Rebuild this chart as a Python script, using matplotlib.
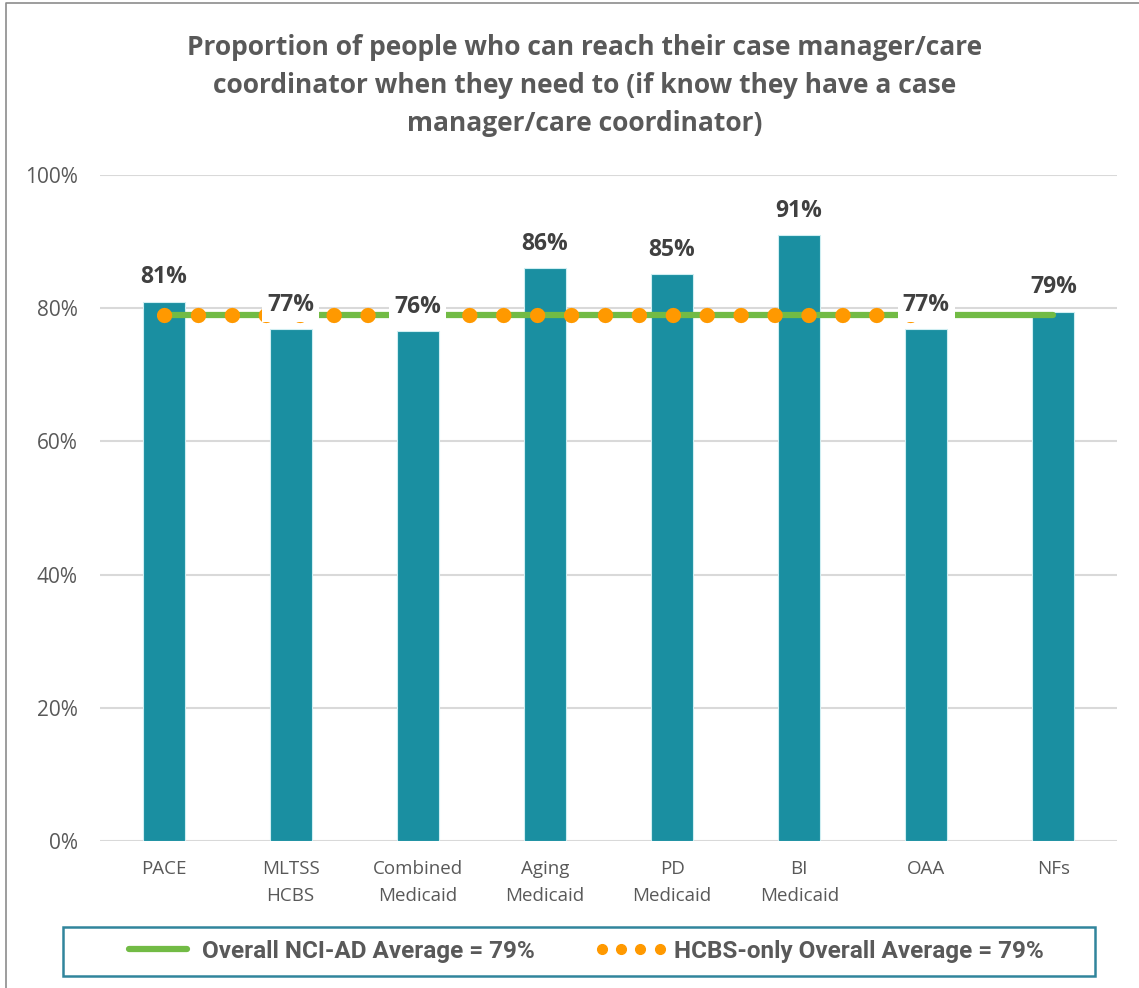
import matplotlib.pyplot as plt
from matplotlib.lines import Line2D
from matplotlib.patches import Rectangle
from matplotlib.ticker import PercentFormatter

plt.rcParams['font.family'] = ['Open Sans', 'DejaVu Sans']

# Data
categories = ['PACE', 'MLTSS\nHCBS', 'Combined\nMedicaid', 'Aging\nMedicaid',
              'PD\nMedicaid', 'BI\nMedicaid', 'OAA', 'NFs']
values = [0.81, 0.769, 0.766, 0.86, 0.851, 0.91, 0.769, 0.795]
labels = ['81%', '77%', '76%', '86%', '85%', '91%', '77%', '79%']
overall_avg = 0.79
hcbs_avg = 0.79
hcbs_last = 6  # HCBS average spans PACE .. OAA

bar_color = '#1A8FA1'
green = '#72BB45'
orange = '#FF9900'
text_gray = '#595959'

W, H = 1139, 988
fig = plt.figure(figsize=(W / 100, H / 100), dpi=100)
ax = fig.add_axes([100 / W, 1 - 841 / H, 1017 / W, 666 / H])

x = list(range(len(categories)))
ax.bar(x, values, width=0.33, color=bar_color, edgecolor='#cfeef2',
       linewidth=0.8, zorder=2)

# average lines
ax.plot([0, len(categories) - 1], [overall_avg, overall_avg], color=green,
        linewidth=4.5, solid_capstyle='round', zorder=3)
ax.plot([0, hcbs_last], [hcbs_avg, hcbs_avg], color=orange, linewidth=11,
        linestyle=(0, (0.01, 2.21)), dash_capstyle='round', zorder=4)

# data labels
for xi, v, lab in zip(x, values, labels):
    ax.annotate(lab, (xi, v), xytext=(0, 13), textcoords='offset points',
                ha='center', va='baseline', fontsize=16.5, fontweight='bold',
                color='#404040', zorder=5,
                bbox=dict(boxstyle='square,pad=0.22', fc='white', ec='none'))

ax.set_xlim(-0.5, len(categories) - 0.5)
ax.set_ylim(0, 1)
ax.set_yticks([0, 0.2, 0.4, 0.6, 0.8, 1.0])
ax.yaxis.set_major_formatter(PercentFormatter(1.0, decimals=0))
ax.set_xticks(x)
ax.set_xticklabels(categories, linespacing=1.6)
ax.tick_params(axis='both', length=0, labelsize=13.5, labelcolor=text_gray)
ax.tick_params(axis='y', pad=16, labelsize=15)
ax.tick_params(axis='x', pad=14)
ax.grid(axis='y', color='#D9D9D9', linewidth=1.5, zorder=0)
ax.set_axisbelow(True)
for s in ax.spines.values():
    s.set_visible(False)

# title
fig.text(585 / W, 1 - 34 / H,
         'Proportion of people who can reach their case manager/care\n'
         'coordinator when they need to (if know they have a case\n'
         'manager/care coordinator)',
         ha='center', va='top', fontsize=19, fontweight='bold',
         color=text_gray, linespacing=1.52)

# legend with its own box
fig.add_artist(Rectangle((63 / W, 1 - 976 / H), 1032 / W, 49 / H,
                         transform=fig.transFigure, fill=False,
                         edgecolor='#31859C', linewidth=1.8))
handles = [Line2D([], [], color=green, linewidth=4.5, solid_capstyle='round'),
           Line2D([], [], color=orange, linestyle='None', marker='o',
                  markersize=7)]
leg = fig.legend(handles, ['Overall NCI-AD Average = 79%',
                           'HCBS-only Overall Average = 79%'],
                 loc='center', bbox_to_anchor=(583 / W, 1 - 951 / H),
                 ncol=2, frameon=False, numpoints=4, handlelength=3.0,
                 handletextpad=0.3, columnspacing=2.45,
                 prop={'family': ['Roboto', 'DejaVu Sans'],
                       'weight': 'bold', 'size': 17.5})
for t in leg.get_texts():
    t.set_color(text_gray)

# outer chart border
fig.add_artist(Line2D([6 / W, 6 / W, 1], [0, 1 - 3 / H, 1 - 3 / H],
                      transform=fig.transFigure, color='#8C8C8C',
                      linewidth=1.2))

fig.savefig('out.png', dpi=100)
